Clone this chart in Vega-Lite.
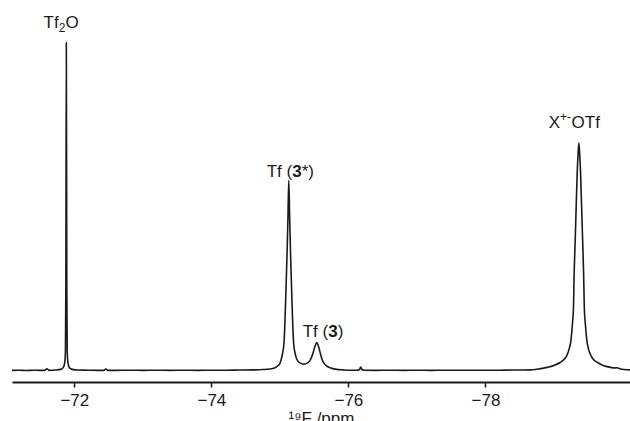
{
  "$schema": "https://vega.github.io/schema/vega-lite/v6.json",
  "autosize": "none",
  "width": 618,
  "height": 382,
  "padding": {"left": 12, "top": 0, "right": 0, "bottom": 39},
  "background": "white",
  "config": {"view": {"stroke": null}, "font": "Liberation Sans"},
  "datasets": {
    "spectrum": [
      {"ppm": -71.09, "I": 0.1}, {"ppm": -71.2, "I": 0.15}, {"ppm": -71.3, "I": 0.05}, {"ppm": -71.4, "I": 0.15},
      {"ppm": -71.5, "I": 0.1}, {"ppm": -71.57, "I": 0.1}, {"ppm": -71.6, "I": 0.6}, {"ppm": -71.63, "I": 0.1},
      {"ppm": -71.72, "I": 0.2}, {"ppm": -71.8, "I": 0.4}, {"ppm": -71.84, "I": 1.0}, {"ppm": -71.86, "I": 2.5},
      {"ppm": -71.87, "I": 6}, {"ppm": -71.876, "I": 25}, {"ppm": -71.883, "I": 100}, {"ppm": -71.89, "I": 25},
      {"ppm": -71.896, "I": 6}, {"ppm": -71.906, "I": 2.5}, {"ppm": -71.926, "I": 1.0}, {"ppm": -71.97, "I": 0.4},
      {"ppm": -72.05, "I": 0.2}, {"ppm": -72.2, "I": 0.15}, {"ppm": -72.35, "I": 0.1}, {"ppm": -72.43, "I": 0.1},
      {"ppm": -72.46, "I": 0.5}, {"ppm": -72.49, "I": 0.1}, {"ppm": -72.6, "I": 0.1}, {"ppm": -72.8, "I": 0.15},
      {"ppm": -73.0, "I": 0.1}, {"ppm": -73.2, "I": 0.15}, {"ppm": -73.4, "I": 0.1}, {"ppm": -73.6, "I": 0.15},
      {"ppm": -73.8, "I": 0.1}, {"ppm": -74.0, "I": 0.15}, {"ppm": -74.2, "I": 0.15}, {"ppm": -74.4, "I": 0.2},
      {"ppm": -74.6, "I": 0.25}, {"ppm": -74.75, "I": 0.35}, {"ppm": -74.85, "I": 0.5}, {"ppm": -74.92, "I": 0.8},
      {"ppm": -74.97, "I": 1.5}, {"ppm": -75.0, "I": 2.2}, {"ppm": -75.036, "I": 5.0}, {"ppm": -75.06, "I": 8.5},
      {"ppm": -75.085, "I": 22}, {"ppm": -75.105, "I": 36}, {"ppm": -75.118, "I": 47}, {"ppm": -75.13, "I": 58},
      {"ppm": -75.142, "I": 47}, {"ppm": -75.155, "I": 36}, {"ppm": -75.175, "I": 22}, {"ppm": -75.2, "I": 8.5},
      {"ppm": -75.225, "I": 5.0}, {"ppm": -75.26, "I": 3.0}, {"ppm": -75.3, "I": 2.3}, {"ppm": -75.35, "I": 2.0},
      {"ppm": -75.4, "I": 2.3}, {"ppm": -75.435, "I": 3.0}, {"ppm": -75.46, "I": 4.0}, {"ppm": -75.483, "I": 5.3},
      {"ppm": -75.51, "I": 7.3}, {"ppm": -75.537, "I": 8.6}, {"ppm": -75.565, "I": 7.3}, {"ppm": -75.591, "I": 5.2},
      {"ppm": -75.62, "I": 3.2}, {"ppm": -75.654, "I": 2.0}, {"ppm": -75.7, "I": 1.2}, {"ppm": -75.76, "I": 0.7},
      {"ppm": -75.83, "I": 0.4}, {"ppm": -75.92, "I": 0.25}, {"ppm": -76.02, "I": 0.15}, {"ppm": -76.12, "I": 0.15},
      {"ppm": -76.16, "I": 0.3}, {"ppm": -76.18, "I": 1.1}, {"ppm": -76.2, "I": 0.3}, {"ppm": -76.24, "I": 0.15},
      {"ppm": -76.4, "I": 0.1}, {"ppm": -76.6, "I": 0.15}, {"ppm": -76.8, "I": 0.1}, {"ppm": -77.0, "I": 0.15},
      {"ppm": -77.2, "I": 0.1}, {"ppm": -77.4, "I": 0.15}, {"ppm": -77.6, "I": 0.15}, {"ppm": -77.8, "I": 0.15},
      {"ppm": -78.0, "I": 0.15}, {"ppm": -78.2, "I": 0.15}, {"ppm": -78.4, "I": 0.2}, {"ppm": -78.55, "I": 0.2},
      {"ppm": -78.65, "I": 0.25}, {"ppm": -78.75, "I": 0.45}, {"ppm": -78.9, "I": 1.0}, {"ppm": -79.0, "I": 1.6},
      {"ppm": -79.09, "I": 2.5}, {"ppm": -79.15, "I": 3.5}, {"ppm": -79.188, "I": 4.6}, {"ppm": -79.22, "I": 6.5},
      {"ppm": -79.247, "I": 9.1}, {"ppm": -79.27, "I": 14.3}, {"ppm": -79.285, "I": 19.2}, {"ppm": -79.295, "I": 29.6},
      {"ppm": -79.31, "I": 39.6}, {"ppm": -79.324, "I": 49.7}, {"ppm": -79.339, "I": 60}, {"ppm": -79.352, "I": 66},
      {"ppm": -79.364, "I": 69.4}, {"ppm": -79.376, "I": 66}, {"ppm": -79.389, "I": 60}, {"ppm": -79.404, "I": 49.7},
      {"ppm": -79.419, "I": 39.6}, {"ppm": -79.433, "I": 29.6}, {"ppm": -79.443, "I": 19.2}, {"ppm": -79.458, "I": 14.3},
      {"ppm": -79.481, "I": 9.1}, {"ppm": -79.51, "I": 6.2}, {"ppm": -79.54, "I": 4.6}, {"ppm": -79.58, "I": 3.3},
      {"ppm": -79.637, "I": 2.5}, {"ppm": -79.72, "I": 1.6}, {"ppm": -79.83, "I": 1.0}, {"ppm": -79.88, "I": 0.8},
      {"ppm": -79.92, "I": 0.9}, {"ppm": -79.96, "I": 0.6}, {"ppm": -80.03, "I": 0.35}, {"ppm": -80.11, "I": 0.25}
    ],
    "labels": [
      {"kind": "sub", "ppm": -71.772, "I": 104.4, "pre": "Tf", "mid": "2", "post": "O"},
      {"kind": "sup", "ppm": -79.09, "I": 74.0, "pre": "X", "mid": "+-", "post": "OTf"},
      {"kind": "bold", "ppm": -75.18, "I": 59.1, "pre": "Tf (", "mid": "3", "post": "*)"},
      {"kind": "bold", "ppm": -75.705, "I": 10.4, "pre": "Tf (", "mid": "3", "post": ")"}
    ]
  },
  "encoding": {
    "x": {
      "field": "ppm", "type": "quantitative",
      "scale": {"domain": [-80.11, -71.09], "reverse": true, "nice": false, "zero": false},
      "axis": {
        "values": [-72, -74, -76, -78], "grid": false, "title": "¹⁹F /ppm",
        "domainColor": "#1a1a1a", "domainWidth": 2, "tickColor": "#1a1a1a", "tickWidth": 1.5, "tickSize": 5,
        "labelFont": "Liberation Sans", "labelFontSize": 17, "labelColor": "#1a1a1a", "labelPadding": 5,
        "titleFont": "Liberation Sans", "titleFontSize": 17, "titleFontWeight": "normal", "titleColor": "#1a1a1a", "titlePadding": 2
      }
    },
    "y": {
      "field": "I", "type": "quantitative",
      "scale": {"domain": [-3.45, 113.0], "nice": false, "zero": false},
      "axis": null
    }
  },
  "layer": [
    {
      "data": {"name": "spectrum"},
      "mark": {"type": "line", "color": "#1a1a1a", "strokeWidth": 1.6, "interpolate": "monotone", "clip": true}
    },
    {
      "data": {"name": "labels"},
      "mark": {"type": "text", "font": "Liberation Sans", "fontSize": 17, "color": "#1a1a1a", "align": "right", "baseline": "alphabetic"},
      "encoding": {"text": {"field": "pre"}}
    },
    {
      "data": {"name": "labels"},
      "transform": [{"filter": "datum.kind === 'bold'"}],
      "mark": {"type": "text", "font": "Liberation Sans", "fontSize": 17, "fontWeight": "bold", "color": "#1a1a1a", "align": "left", "baseline": "alphabetic"},
      "encoding": {"text": {"field": "mid"}}
    },
    {
      "data": {"name": "labels"},
      "transform": [{"filter": "datum.kind === 'bold'"}],
      "mark": {"type": "text", "font": "Liberation Sans", "fontSize": 17, "color": "#1a1a1a", "align": "left", "baseline": "alphabetic", "dx": 9.5},
      "encoding": {"text": {"field": "post"}}
    },
    {
      "data": {"name": "labels"},
      "transform": [{"filter": "datum.kind === 'sub'"}],
      "mark": {"type": "text", "font": "Liberation Sans", "fontSize": 12, "color": "#1a1a1a", "align": "left", "baseline": "alphabetic", "dy": 4},
      "encoding": {"text": {"field": "mid"}}
    },
    {
      "data": {"name": "labels"},
      "transform": [{"filter": "datum.kind === 'sub'"}],
      "mark": {"type": "text", "font": "Liberation Sans", "fontSize": 17, "color": "#1a1a1a", "align": "left", "baseline": "alphabetic", "dx": 6.7},
      "encoding": {"text": {"field": "post"}}
    },
    {
      "data": {"name": "labels"},
      "transform": [{"filter": "datum.kind === 'sup'"}],
      "mark": {"type": "text", "font": "Liberation Sans", "fontSize": 12, "color": "#1a1a1a", "align": "left", "baseline": "alphabetic", "dy": -7},
      "encoding": {"text": {"field": "mid"}}
    },
    {
      "data": {"name": "labels"},
      "transform": [{"filter": "datum.kind === 'sup'"}],
      "mark": {"type": "text", "font": "Liberation Sans", "fontSize": 17, "color": "#1a1a1a", "align": "left", "baseline": "alphabetic", "dx": 11.5},
      "encoding": {"text": {"field": "post"}}
    }
  ]
}
